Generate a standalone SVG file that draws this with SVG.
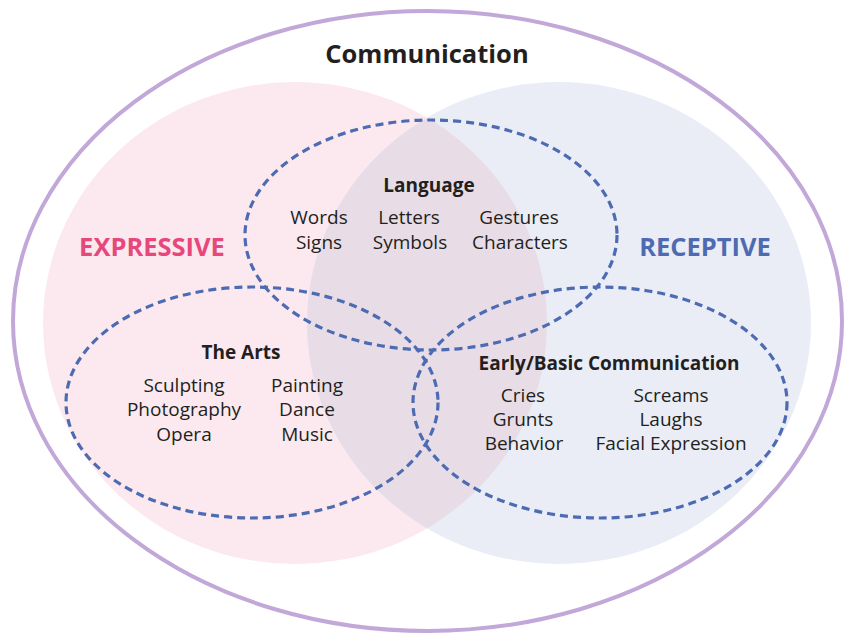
<svg xmlns="http://www.w3.org/2000/svg" width="850" height="634" viewBox="0 0 850 634">
<defs>
<style>
.title{font-family:"Open Sans","Liberation Sans",sans-serif;font-weight:700;fill:#231f20;text-anchor:middle}
.item{font-family:"Open Sans","Liberation Sans",sans-serif;font-size:19px;fill:#231f20;text-anchor:middle}
.dash{fill:none;stroke:#4d6bb3;stroke-width:3.2;stroke-dasharray:8 5}
.big{font-family:"Open Sans","Liberation Sans",sans-serif;font-weight:700;font-size:25.5px;text-anchor:middle}
</style>
<clipPath id="blueClip"><ellipse cx="559" cy="323" rx="252" ry="241"/></clipPath>
</defs>
<rect width="850" height="634" fill="#ffffff"/>
<g id="communication">
<ellipse cx="427.5" cy="321" rx="414.5" ry="310" fill="none" stroke="#c2a8d8" stroke-width="4"/>
<text class="title" x="427" y="63" font-size="25.5">Communication</text>
</g>
<g id="expressive">
<ellipse cx="295" cy="323" rx="252" ry="241" fill="#fbe9ef"/>
</g>
<g id="receptive">
<ellipse cx="559" cy="323" rx="252" ry="241" fill="#eaedf6"/>
<ellipse cx="295" cy="323" rx="252" ry="241" fill="#e8dde6" clip-path="url(#blueClip)"/>
</g>
<text class="big" x="152" y="256" fill="#e8477b">EXPRESSIVE</text>
<text class="big" x="705" y="256" fill="#4e6bb2">RECEPTIVE</text>
<g id="connectors">
<ellipse class="dash" cx="431" cy="235" rx="186" ry="115"/>
<ellipse class="dash" cx="252" cy="402.5" rx="186" ry="115.5"/>
<ellipse class="dash" cx="600" cy="402.5" rx="187" ry="115.5"/>
</g>
<g id="language">
<text class="title" x="429" y="192" font-size="19">Language</text>
<text class="item" x="319" y="224">Words</text>
<text class="item" x="319" y="249">Signs</text>
<text class="item" x="409" y="224">Letters</text>
<text class="item" x="410" y="249">Symbols</text>
<text class="item" x="519" y="224">Gestures</text>
<text class="item" x="520" y="249">Characters</text>
</g>
<g id="arts">
<text class="title" x="241" y="359" font-size="19">The Arts</text>
<text class="item" x="184" y="392">Sculpting</text>
<text class="item" x="184" y="416">Photography</text>
<text class="item" x="184" y="441">Opera</text>
<text class="item" x="307" y="392">Painting</text>
<text class="item" x="307" y="416">Dance</text>
<text class="item" x="307" y="441">Music</text>
</g>
<g id="early">
<text class="title" x="609" y="370" font-size="19">Early/Basic Communication</text>
<text class="item" x="523" y="402">Cries</text>
<text class="item" x="523" y="426">Grunts</text>
<text class="item" x="524" y="450">Behavior</text>
<text class="item" x="671" y="402">Screams</text>
<text class="item" x="671" y="426">Laughs</text>
<text class="item" x="671" y="450">Facial Expression</text>
</g>
</svg>
